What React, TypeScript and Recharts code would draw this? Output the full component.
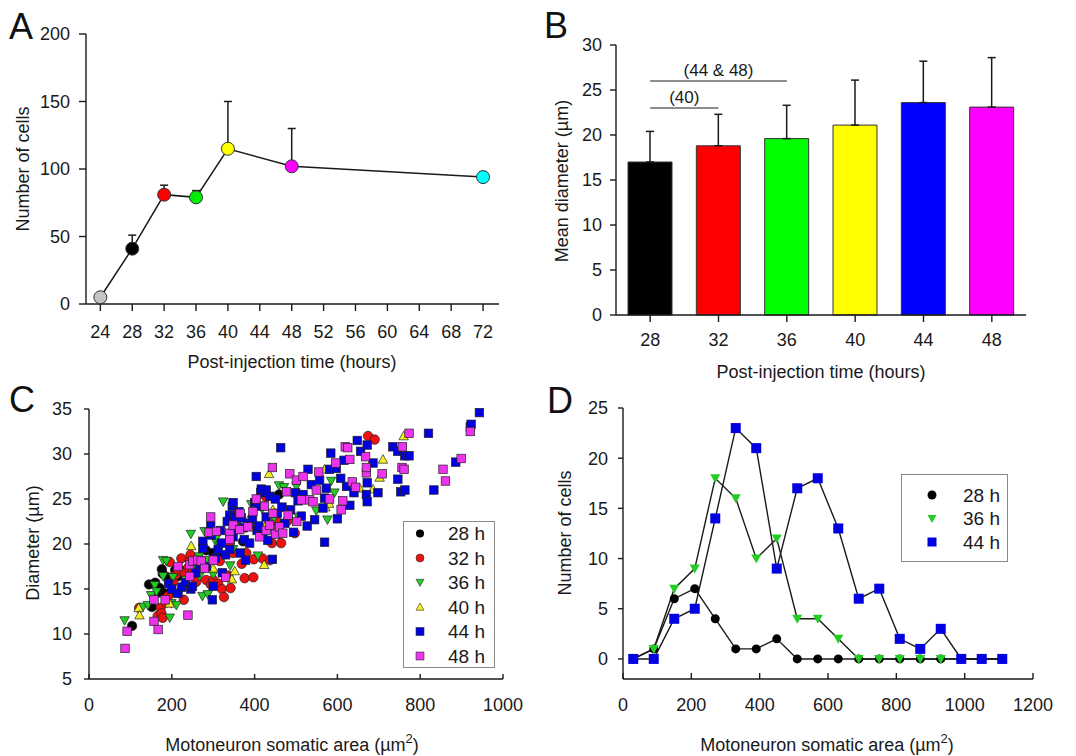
import React from "react";
import {
  ComposedChart,
  Line,
  ErrorBar,
  XAxis,
  YAxis,
  BarChart,
  Bar,
  Cell,
  ScatterChart,
  Scatter,
  LineChart,
  Legend,
  ReferenceLine,
  Label,
} from "recharts";

const FONT = "'Liberation Sans', Arial, Helvetica, sans-serif";
const INK = "#1a1a1a";

// ---- panel A: number of labelled cells vs time
const hoursA = [24, 28, 32, 36, 40, 48, 72];
const cellsA = [5, 41, 81, 79, 115, 102, 94];
const cellsErrA = [0, 10, 7, 5, 35, 28, 4];
const hourTicksA = [24, 28, 32, 36, 40, 44, 48, 52, 56, 60, 64, 68, 72];
const colorsA = ["#c4c4c4", "#000000", "#ff0000", "#00ee00", "#ffff00", "#ff00ff", "#00ffff"];

// ---- panel B: mean diameter per time point
const hoursB = ["28", "32", "36", "40", "44", "48"];
const diamB = [17.0, 18.8, 19.6, 21.1, 23.6, 23.1];
const diamErrB = [3.4, 3.5, 3.7, 5.0, 4.6, 5.5];
const colorsB = ["#000000", "#ff0000", "#00ff00", "#ffff00", "#0000ff", "#ff00ff"];

// ---- panel C: diameter vs somatic area, [area, diameter]
const c28 = [
  [104, 10.9], [145, 15.5], [152, 13.0], [160, 15.7], [168, 14.6], [171, 15.1], [176, 17.2],
  [178, 16.7], [184, 14.5], [190, 16.3], [198, 14.6], [208, 17.1], [214, 16.4], [225, 17.0],
  [262, 18.2], [283, 19.3], [300, 19.0], [312, 18.6], [372, 20.3], [459, 25.5],
];
const c32 = [
  [121, 12.9], [166, 12.0], [173, 12.9], [175, 12.3], [178, 11.8], [186, 13.5], [191, 14.2],
  [195, 18.0], [203, 15.8], [210, 16.6], [215, 17.1], [223, 18.4], [229, 13.8], [231, 16.8],
  [240, 17.4], [243, 18.2], [245, 18.8], [251, 16.9], [259, 15.8], [267, 18.2], [272, 17.5],
  [283, 16.0], [294, 15.5], [300, 16.0], [312, 15.6], [316, 18.1], [321, 15.0], [326, 14.1],
  [336, 16.5], [340, 20.1], [342, 15.1], [348, 19.0], [369, 17.8], [376, 16.2], [380, 19.0],
  [397, 16.3], [398, 18.3], [419, 18.4], [428, 25.2], [437, 18.2], [442, 20.1], [452, 22.6],
  [464, 20.1], [480, 22.6], [497, 21.2], [674, 32.0], [690, 31.6],
];
const c36 = [
  [86, 11.5], [130, 13.0], [142, 13.2], [150, 14.3], [159, 15.4], [163, 14.7], [179, 18.2],
  [179, 16.4], [187, 18.1], [195, 11.8], [199, 13.4], [203, 16.3], [211, 13.2], [235, 16.0],
  [246, 21.1], [251, 17.5], [266, 18.6], [267, 16.4], [274, 14.2], [279, 21.4], [283, 18.2],
  [287, 14.4], [300, 16.6], [308, 20.1], [309, 20.8], [316, 19.8], [324, 24.7], [340, 22.7],
  [341, 17.6], [348, 19.4], [356, 22.0], [392, 24.4], [408, 18.7], [418, 23.9], [447, 22.9],
  [459, 26.5], [471, 26.3], [501, 26.4], [506, 23.0], [549, 23.7], [576, 22.7], [585, 27.0],
  [593, 25.7],
];
const c40 = [
  [120, 12.9], [122, 12.1], [195, 13.4], [223, 15.3], [247, 19.8], [300, 17.3], [345, 16.1],
  [352, 17.0], [384, 22.6], [423, 17.7], [428, 22.2], [435, 27.8], [444, 23.8], [444, 22.0],
  [569, 28.3], [571, 24.1], [580, 24.5], [654, 26.2], [686, 26.1], [702, 27.4], [710, 29.4],
  [760, 32.0],
];
const c44 = [
  [192, 15.6], [200, 15.0], [215, 14.5], [224, 15.2], [233, 15.7], [246, 15.0], [250, 15.3],
  [258, 16.8], [267, 17.8], [275, 20.3], [275, 19.5], [284, 17.5], [294, 22.0], [295, 21.0],
  [298, 13.8], [300, 15.3], [305, 18.4], [312, 19.4], [318, 21.5], [320, 20.1], [322, 16.8],
  [330, 18.8], [334, 22.5], [340, 23.2], [340, 19.4], [346, 24.2], [348, 24.6], [348, 20.8],
  [352, 23.0], [357, 21.6], [362, 23.6], [365, 19.0], [368, 22.9], [372, 21.8], [375, 20.5],
  [378, 18.2], [388, 22.3], [388, 20.1], [395, 22.8], [400, 24.6], [404, 27.5], [406, 21.5],
  [410, 22.0], [411, 24.2], [415, 25.7], [416, 26.1], [420, 21.0], [428, 26.0], [428, 23.0],
  [432, 20.4], [437, 25.3], [443, 18.3], [450, 25.0], [455, 23.4], [459, 21.7], [463, 30.7],
  [466, 24.1], [473, 22.3], [487, 23.8], [494, 21.3], [499, 25.7], [505, 24.8], [513, 23.1],
  [517, 25.5], [527, 22.0], [529, 28.3], [537, 26.6], [545, 22.7], [557, 27.1], [565, 24.0],
  [569, 20.2], [569, 25.1], [573, 26.2], [581, 28.3], [584, 30.1], [597, 28.4], [600, 22.8],
  [608, 27.3], [616, 29.3], [622, 26.4], [630, 24.3], [640, 25.7], [648, 31.5], [656, 30.3],
  [670, 25.5], [672, 31.0], [672, 26.8], [672, 24.7], [686, 29.0], [698, 25.7], [734, 30.8],
  [746, 30.3], [746, 27.2], [753, 25.8], [763, 29.8], [763, 26.0], [773, 29.8], [820, 32.3],
  [833, 26.0], [886, 29.1], [921, 33.0], [923, 33.3], [943, 34.6],
];
const c48 = [
  [87, 8.4], [92, 10.3], [157, 13.8], [157, 11.4], [167, 10.5], [184, 13.8], [215, 17.5],
  [239, 12.1], [243, 16.4], [243, 17.7], [251, 18.1], [263, 18.2], [271, 18.1], [279, 17.3],
  [290, 21.3], [294, 23.0], [300, 18.2], [308, 21.4], [330, 16.3], [340, 21.2], [340, 20.5],
  [348, 22.1], [364, 21.6], [365, 23.4], [384, 21.9], [396, 23.6], [404, 25.0], [412, 20.8],
  [424, 24.2], [428, 21.5], [436, 22.1], [443, 28.5], [444, 23.4], [451, 21.1], [460, 21.9],
  [468, 21.2], [477, 25.8], [481, 23.2], [485, 27.8], [501, 27.1], [502, 22.5], [513, 24.9],
  [517, 27.5], [533, 24.9], [541, 24.7], [549, 26.0], [555, 28.0], [581, 25.0], [596, 29.0],
  [609, 23.8], [613, 24.8], [619, 30.8], [625, 30.7], [630, 29.4], [636, 26.9], [644, 26.3],
  [668, 29.7], [670, 27.9], [670, 28.5], [708, 27.8], [756, 28.5], [757, 30.8], [761, 28.3],
  [773, 32.3], [855, 28.3], [861, 27.0], [899, 29.5], [921, 32.5],
];

// ---- panel D: size distribution (bin centres, counts)
const areaD = [30, 90, 150, 210, 270, 330, 390, 450, 510, 570, 630, 690, 750, 810, 870, 930, 990, 1050, 1110];
const cells28D = [0, 1, 6, 7, 4, 1, 1, 2, 0, 0, 0, 0, 0, 0, 0, 0, 0, 0, 0];
const cells36D = [0, 1, 7, 9, 18, 16, 10, 12, 4, 4, 2, 0, 0, 0, 0, 0, 0, 0, 0];
const cells44D = [0, 0, 4, 5, 14, 23, 21, 9, 17, 18, 13, 6, 7, 2, 1, 3, 0, 0, 0];

const dataA = hoursA.map((t, i) => ({ t, n: cellsA[i], err: [0, cellsErrA[i]] }));
const dataB = hoursB.map((t, i) => ({ t, d: diamB[i], err: [0, diamErrB[i]] }));
const dataD = areaD.map((a, i) => ({ a, n28: cells28D[i], n36: cells36D[i], n44: cells44D[i] }));
const toXY = (pts: number[][]) => pts.map(([x, y]) => ({ x, y }));

const GREEN = "#22cc22";
const BLUE = "#0000e0";
const MAGENTA = "#ee33ee";

const seriesC = [
  { name: "28 h", pts: c28, kind: "circle", fill: "#000000" },
  { name: "32 h", pts: c32, kind: "circle", fill: "#ee1111" },
  { name: "36 h", pts: c36, kind: "down", fill: GREEN },
  { name: "40 h", pts: c40, kind: "up", fill: "#f2f020" },
  { name: "44 h", pts: c44, kind: "square", fill: BLUE },
  { name: "48 h", pts: c48, kind: "square", fill: MAGENTA },
];
const seriesD = [
  { name: "28 h", key: "n28", kind: "circle", fill: "#000000" },
  { name: "36 h", key: "n36", kind: "down", fill: GREEN },
  { name: "44 h", key: "n44", kind: "square", fill: BLUE },
];

const tick = { fontSize: 18, fill: INK };
const axisLine = { stroke: INK, strokeWidth: 1.4 };

function Marker({ kind, cx, cy, size, fill, stroke, sw = 0.8 }: any) {
  if (cx == null || cy == null) return null;
  const h = size / 2;
  if (kind === "circle") return <circle cx={cx} cy={cy} r={h} fill={fill} stroke={stroke} strokeWidth={sw} />;
  if (kind === "square")
    return <rect x={cx - h} y={cy - h} width={size} height={size} fill={fill} stroke={stroke} strokeWidth={sw} />;
  if (kind === "down")
    return (
      <polygon
        points={`${cx - h},${cy - h * 0.8} ${cx + h},${cy - h * 0.8} ${cx},${cy + h}`}
        fill={fill}
        stroke={stroke}
        strokeWidth={sw}
      />
    );
  return (
    <polygon
      points={`${cx - h},${cy + h * 0.8} ${cx + h},${cy + h * 0.8} ${cx},${cy - h}`}
      fill={fill}
      stroke={stroke}
      strokeWidth={sw}
    />
  );
}

function Title({ x, y, angle = 0, children }: any) {
  return (
    <text
      x={x}
      y={y}
      transform={angle ? `rotate(${angle} ${x} ${y})` : undefined}
      textAnchor="middle"
      dominantBaseline="central"
      fontSize={18}
      fill={INK}
    >
      {children}
    </text>
  );
}

const areaTitle = (
  <>
    Motoneuron somatic area (µm
    <tspan dy={-7} fontSize={13}>
      2
    </tspan>
    <tspan dy={7}>)</tspan>
  </>
);

function LegendBox({ items, width, height, rowY, rowStep, markerX, textX, markerSize }: any) {
  return (
    <svg width={width} height={height} style={{ display: "block" }}>
      <rect x={0.5} y={0.5} width={width - 1} height={height - 1} fill="#fff" stroke="#8a8a8a" />
      {items.map((it: any, i: number) => (
        <g key={it.name}>
          <Marker
            kind={it.kind}
            cx={markerX}
            cy={rowY + i * rowStep}
            size={markerSize}
            fill={it.fill}
            stroke={it.stroke}
            sw={0.6}
          />
          <text x={textX} y={rowY + i * rowStep} dominantBaseline="central" fontSize={19} fill={INK}>
            {it.name}
          </text>
        </g>
      ))}
    </svg>
  );
}

const PanelA = () => (
  <ComposedChart width={530} height={380} data={dataA} margin={{ top: 34, right: 31, bottom: 0, left: 0 }}>
    <XAxis
      dataKey="t"
      type="number"
      domain={[22.2, 74]}
      ticks={hourTicksA}
      interval={0}
      height={76}
      tickSize={7}
      tickMargin={14}
      tick={tick}
      axisLine={axisLine}
      tickLine={axisLine}
    >
      <Label content={() => <Title x={292} y={362}>Post-injection time (hours)</Title>} />
    </XAxis>
    <YAxis
      type="number"
      domain={[0, 200]}
      ticks={[0, 50, 100, 150, 200]}
      width={86}
      tickSize={7}
      tickMargin={9}
      tick={tick}
      axisLine={axisLine}
      tickLine={axisLine}
    >
      <Label content={() => <Title x={23} y={169} angle={-90}>Number of cells</Title>} />
    </YAxis>
    <Line
      dataKey="n"
      stroke={INK}
      strokeWidth={1.5}
      isAnimationActive={false}
      activeDot={false}
      dot={(p: any) => (
        <Marker key={p.index} kind="circle" cx={p.cx} cy={p.cy} size={13} fill={colorsA[p.index]} stroke="#333" sw={1} />
      )}
    >
      <ErrorBar dataKey="err" direction="y" width={4} stroke={INK} strokeWidth={1.5} />
    </Line>
  </ComposedChart>
);

const PanelB = () => (
  <BarChart width={546} height={385} data={dataB} margin={{ top: 45, right: 50, bottom: 0, left: 0 }} barSize={44}>
    <XAxis
      dataKey="t"
      height={70}
      tickSize={7}
      tickMargin={11}
      tick={tick}
      axisLine={axisLine}
      tickLine={axisLine}
    >
      <Label content={() => <Title x={291} y={372}>Post-injection time (hours)</Title>} />
    </XAxis>
    <YAxis
      type="number"
      domain={[0, 30]}
      ticks={[0, 5, 10, 15, 20, 25, 30]}
      width={86}
      tickSize={6}
      tickMargin={8}
      tick={tick}
      axisLine={axisLine}
      tickLine={axisLine}
    >
      <Label content={() => <Title x={32} y={181} angle={-90}>Mean diameter (µm)</Title>} />
    </YAxis>
    <Bar dataKey="d" stroke="#333" strokeWidth={1} isAnimationActive={false}>
      {dataB.map((r, i) => (
        <Cell key={r.t} fill={colorsB[i]} />
      ))}
      <ErrorBar dataKey="err" direction="y" width={4} stroke={INK} strokeWidth={1.5} />
    </Bar>
    <ReferenceLine
      segment={[{ x: "28", y: 26 }, { x: "36", y: 26 }]}
      stroke={INK}
      strokeWidth={1}
      label={{ value: "(44 & 48)", position: "top", offset: 5, fontSize: 17, fill: INK }}
    />
    <ReferenceLine
      segment={[{ x: "28", y: 23 }, { x: "32", y: 23 }]}
      stroke={INK}
      strokeWidth={1}
      label={{ value: "(40)", position: "top", offset: 5, fontSize: 17, fill: INK }}
    />
  </BarChart>
);

const PanelC = () => (
  <ScatterChart width={530} height={376} margin={{ top: 29, right: 27, bottom: 0, left: 0 }}>
    <XAxis
      dataKey="x"
      type="number"
      domain={[0, 1000]}
      ticks={[0, 200, 400, 600, 800, 1000]}
      interval={0}
      height={77}
      tickSize={-5}
      tickMargin={24}
      tick={tick}
      axisLine={axisLine}
      tickLine={axisLine}
    >
      <Label content={() => <Title x={292} y={365}>{areaTitle}</Title>} />
    </XAxis>
    <YAxis
      dataKey="y"
      type="number"
      domain={[5, 35]}
      ticks={[5, 10, 15, 20, 25, 30, 35]}
      width={89}
      tickSize={5}
      tickMargin={12}
      tick={tick}
      axisLine={axisLine}
      tickLine={axisLine}
    >
      <Label content={() => <Title x={33} y={163} angle={-90}>Diameter (µm)</Title>} />
    </YAxis>
    {seriesC.map((s) => (
      <Scatter
        key={s.name}
        name={s.name}
        data={toXY(s.pts)}
        isAnimationActive={false}
        shape={(p: any) => (
          <Marker kind={s.kind} cx={p.cx} cy={p.cy} size={s.kind === "square" ? 8.5 : 9.5} fill={s.fill} stroke="#222" sw={0.7} />
        )}
      />
    ))}
    <Legend
      layout="horizontal"
      verticalAlign="middle"
      align="center"
      wrapperStyle={{ left: 403, top: 141, width: 92, height: 147 }}
      content={() => (
        <LegendBox
          items={seriesC.map((s) => ({ ...s, stroke: s.kind === "circle" && s.fill === "#000000" ? "none" : "#333" }))}
          width={92}
          height={147}
          rowY={12.5}
          rowStep={24.5}
          markerX={17}
          textX={45}
          markerSize={8}
        />
      )}
    />
  </ScatterChart>
);

const PanelD = () => (
  <LineChart width={546} height={376} data={dataD} margin={{ top: 28, right: 43, bottom: 0, left: 0 }}>
    <XAxis
      dataKey="a"
      type="number"
      domain={[0, 1200]}
      ticks={[0, 200, 400, 600, 800, 1000, 1200]}
      interval={0}
      height={77}
      tickSize={-6}
      tickMargin={25}
      tick={tick}
      axisLine={axisLine}
      tickLine={axisLine}
    >
      <Label content={() => <Title x={297} y={365}>{areaTitle}</Title>} />
    </XAxis>
    <YAxis
      type="number"
      domain={[-2, 25]}
      ticks={[0, 5, 10, 15, 20, 25]}
      width={93}
      tickSize={5}
      tickMargin={10}
      tick={tick}
      axisLine={axisLine}
      tickLine={axisLine}
    >
      <Label content={() => <Title x={35} y={153} angle={-90}>Number of cells</Title>} />
    </YAxis>
    {seriesD.map((s) => (
      <Line
        key={s.key}
        dataKey={s.key}
        name={s.name}
        stroke={INK}
        strokeWidth={1.4}
        isAnimationActive={false}
        activeDot={false}
        dot={(p: any) => (
          <Marker key={p.index} kind={s.kind} cx={p.cx} cy={p.cy} size={s.kind === "circle" ? 9 : 10} fill={s.fill} stroke="none" />
        )}
      />
    ))}
    <Legend
      layout="horizontal"
      verticalAlign="middle"
      align="center"
      wrapperStyle={{ left: 371, top: 94, width: 107, height: 88 }}
      content={() => (
        <LegendBox
          items={seriesD.map((s) => ({ ...s, stroke: "none" }))}
          width={107}
          height={88}
          rowY={21}
          rowStep={23.5}
          markerX={31}
          textX={62}
          markerSize={9}
        />
      )}
    />
  </LineChart>
);

const panelLetters = [
  { t: "A", x: 9, y: 39 },
  { t: "B", x: 544, y: 38 },
  { t: "C", x: 9, y: 412 },
  { t: "D", x: 547, y: 413 },
];

export default function App() {
  return (
    <div
      style={{
        position: "absolute",
        left: 0,
        top: 0,
        width: 1076,
        height: 756,
        background: "#fff",
        fontFamily: FONT,
        overflow: "hidden",
      }}
    >
      <div style={{ position: "absolute", left: 0, top: 0 }}>
        <PanelA />
      </div>
      <div style={{ position: "absolute", left: 530, top: 0 }}>
        <PanelB />
      </div>
      <div style={{ position: "absolute", left: 0, top: 380 }}>
        <PanelC />
      </div>
      <div style={{ position: "absolute", left: 530, top: 380 }}>
        <PanelD />
      </div>
      <svg width={1076} height={756} style={{ position: "absolute", left: 0, top: 0, pointerEvents: "none" }}>
        {panelLetters.map((l) => (
          <text key={l.t} x={l.x} y={l.y} fontSize={36} fill="#111">
            {l.t}
          </text>
        ))}
      </svg>
    </div>
  );
}
